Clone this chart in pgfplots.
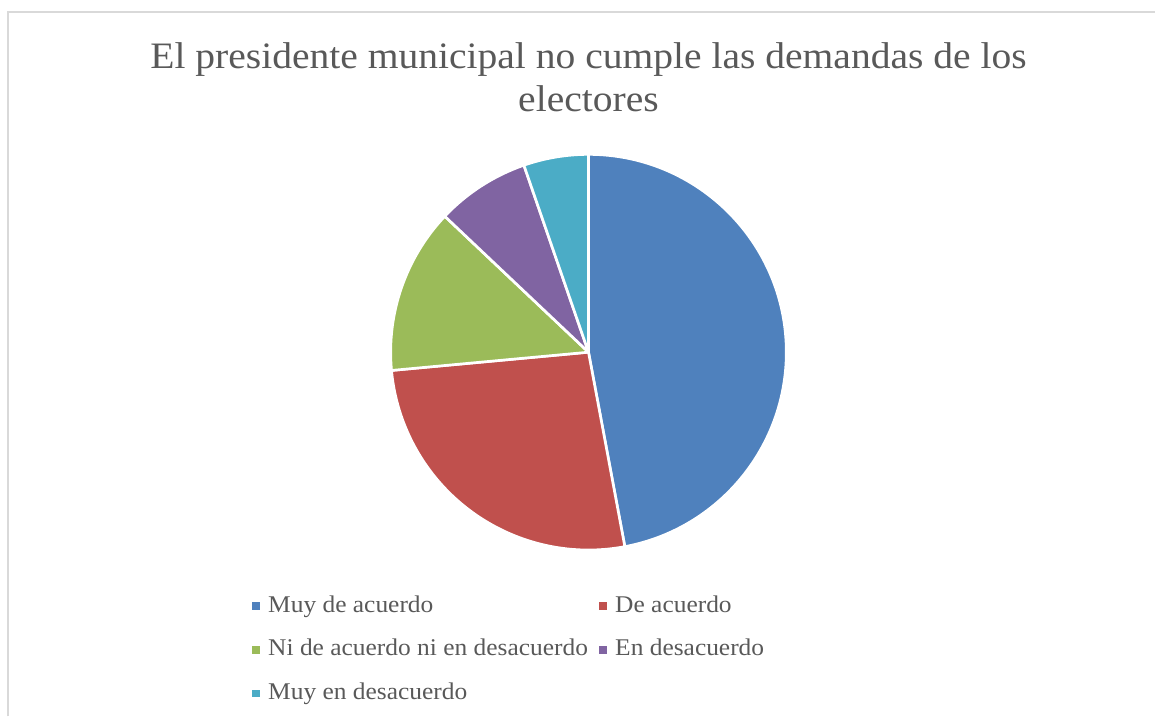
\documentclass[border=0pt]{standalone}
\usepackage{pgfplots}
\pgfplotsset{compat=1.18}
\usepackage{pgfplotstable}
\usepackage{fontspec}
\setmainfont{Liberation Serif}[FakeStretch=1.06]
\definecolor{c0}{HTML}{4F81BD}
\definecolor{c1}{HTML}{C0504D}
\definecolor{c2}{HTML}{9BBB59}
\definecolor{c3}{HTML}{8064A2}
\definecolor{c4}{HTML}{4BACC6}
\definecolor{txt}{HTML}{595959}
\definecolor{frame}{HTML}{D9D9D9}

\pgfplotstableread[col sep=comma]{
label,value
Muy de acuerdo,80
De acuerdo,45
Ni de acuerdo ni en desacuerdo,23
En desacuerdo,13
Muy en desacuerdo,9
}\piedata

% cumulative angles (clockwise from 12 o'clock) and legend positions
\def\total{0}
\pgfplotsforeachungrouped \i in {0,...,4}{%
  \pgfplotstablegetelem{\i}{value}\of\piedata
  \pgfmathsetmacro\total{\total+\pgfplotsretval}%
}
\def\cum{0}
\pgfplotsforeachungrouped \i in {0,...,4}{%
  \pgfplotstablegetelem{\i}{value}\of\piedata
  \pgfmathsetmacro\sa{90-\cum/\total*360}%
  \pgfmathsetmacro\cum{\cum+\pgfplotsretval}%
  \pgfmathsetmacro\ea{90-\cum/\total*360}%
  \expandafter\xdef\csname sa\i\endcsname{\sa}%
  \expandafter\xdef\csname ea\i\endcsname{\ea}%
  \pgfplotstablegetelem{\i}{label}\of\piedata
  \expandafter\xdef\csname lab\i\endcsname{\pgfplotsretval}%
  \pgfmathsetmacro\col{mod(\i,2)}%
  \pgfmathsetmacro\row{int(\i/2)}%
  \pgfmathsetmacro\mx{252.7+347.3*\col}%
  \pgfmathsetmacro\my{-(602.7+43.7*\row)}%
  \pgfmathsetmacro\mxb{\mx+8}%
  \pgfmathsetmacro\myb{\my-8}%
  \pgfmathsetmacro\tx{\mx+15.5}%
  \pgfmathsetmacro\ty{\my-10}%
  \expandafter\xdef\csname mx\i\endcsname{\mx}%
  \expandafter\xdef\csname my\i\endcsname{\my}%
  \expandafter\xdef\csname mxb\i\endcsname{\mxb}%
  \expandafter\xdef\csname myb\i\endcsname{\myb}%
  \expandafter\xdef\csname tx\i\endcsname{\tx}%
  \expandafter\xdef\csname ty\i\endcsname{\ty}%
}

\begin{document}
\begin{tikzpicture}
\begin{axis}[
  scale only axis, width=867pt, height=537.75pt,
  xmin=0, xmax=1156, ymin=-717, ymax=0,
  hide axis, clip=false]
\draw[draw=none] (axis cs:0,0) rectangle (axis cs:1156,-717);
% frame
\draw[frame, line width=1.5pt] (axis cs:8,-717) -- (axis cs:8,-12.3) -- (axis cs:1156,-12.3);
% slices
\pgfplotsinvokeforeach{0,...,4}{
  \fill[c#1, draw=white, line width=2pt, line join=round]
    (axis cs:589,-352.5) -- ++(\csname sa#1\endcsname:148.5pt)
    arc[start angle=\csname sa#1\endcsname, end angle=\csname ea#1\endcsname, radius=148.5pt] -- cycle;
}
% title
\node[anchor=base, text=txt, font=\fontsize{28}{34}\selectfont] at (axis cs:589,-68.3) {El presidente municipal no cumple las demandas de los};
\node[anchor=base, text=txt, font=\fontsize{28}{34}\selectfont] at (axis cs:589,-111.7) {electores};
% legend
\pgfplotsinvokeforeach{0,...,4}{
  \fill[c#1] (axis cs:\csname mx#1\endcsname,\csname my#1\endcsname) rectangle (axis cs:\csname mxb#1\endcsname,\csname myb#1\endcsname);
  \node[anchor=base west, inner sep=0pt, text=txt, font=\fontsize{18}{21}\selectfont] at (axis cs:\csname tx#1\endcsname,\csname ty#1\endcsname) {\csname lab#1\endcsname};
}
\end{axis}
\end{tikzpicture}
\end{document}
